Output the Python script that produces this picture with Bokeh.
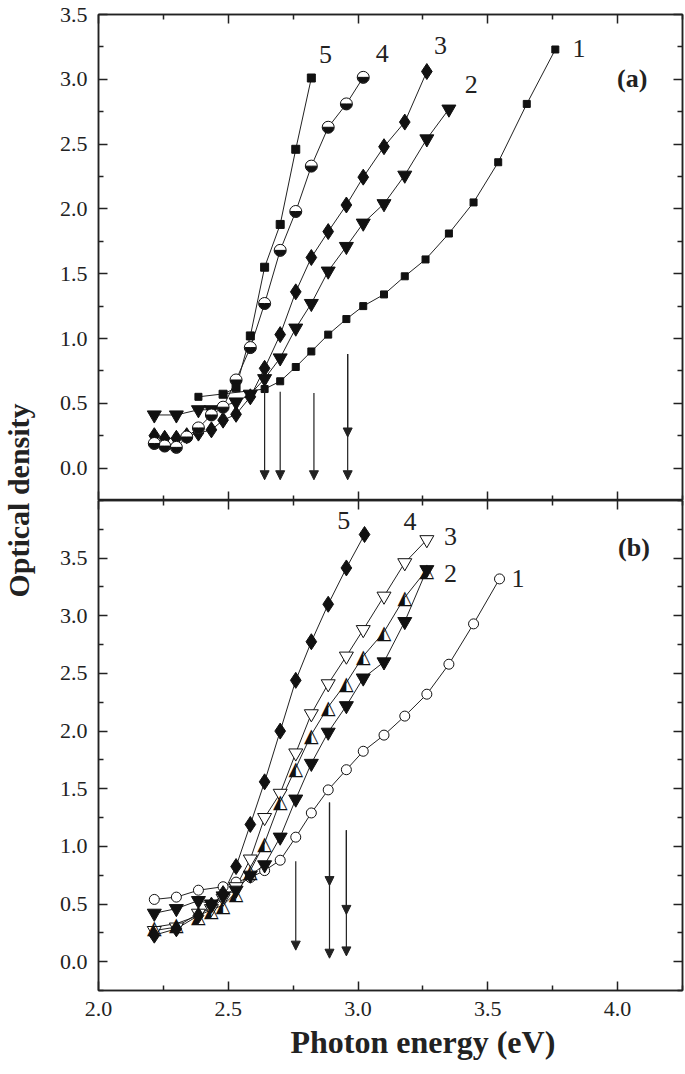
import math
from bokeh.plotting import figure
from bokeh.models import (Range1d, LinearAxis, FixedTicker, PrintfTickFormatter,
                          Arrow, NormalHead, Title, ColumnDataSource)
from bokeh.layouts import row, column
from bokeh.embed import file_html
from bokeh.resources import INLINE
from bokeh.core.properties import value

FONT = "Liberation Serif"
NAN = float("nan")

X_RANGE = (2.0, 4.25)
YA_RANGE = (-0.25, 3.5)
YB_RANGE = (-0.25, 4.0)
X_LABEL = "Photon energy (eV)"
Y_LABEL = "Optical density"

X_MAJOR = [2.0, 2.5, 3.0, 3.5, 4.0]
X_MINOR = [2.25, 2.75, 3.25, 3.75, 4.25]
Y_MAJOR = [0.0, 0.5, 1.0, 1.5, 2.0, 2.5, 3.0, 3.5]
Y_MINOR = [-0.25, 0.25, 0.75, 1.25, 1.75, 2.25, 2.75, 3.25, 3.75, 4.0]

# ---------------- panel (a) ----------------
a1_x = [2.385, 2.64, 2.70, 2.76, 2.82, 2.885, 2.955, 3.02, 3.10, 3.18, 3.26, 3.35, 3.445, 3.54, 3.65, 3.76]
a1_y = [0.55, 0.61, 0.67, 0.78, 0.90, 1.03, 1.15, 1.25, 1.34, 1.48, 1.61, 1.81, 2.05, 2.36, 2.81, 3.23]

a2_x = [2.215, 2.30, 2.385, 2.435, 2.53, 2.585, 2.64, 2.70, 2.76, 2.82, 2.885, 2.955, 3.02, 3.10, 3.18, 3.265, 3.35]
a2_y = [0.41, 0.41, 0.45, 0.45, 0.51, 0.57, 0.69, 0.85, 1.08, 1.27, 1.52, 1.71, 1.89, 2.04, 2.26, 2.54, 2.77]

a3_x = [2.215, 2.255, 2.30, 2.34, 2.385, 2.435, 2.48, 2.53, 2.585, 2.64, 2.70, 2.76, 2.82, 2.885, 2.955, 3.02, 3.10, 3.18, 3.265]
a3_y = [0.25, 0.23, 0.23, 0.25, 0.27, 0.295, 0.37, 0.415, 0.55, 0.77, 1.03, 1.36, 1.625, 1.825, 2.03, 2.245, 2.48, 2.67, 3.06]

a4_x = [2.215, 2.255, 2.30, 2.34, 2.385, 2.435, 2.48, 2.53, 2.585, 2.64, 2.70, 2.76, 2.82, 2.885, 2.955, 3.02]
a4_y = [0.19, 0.17, 0.16, 0.24, 0.31, 0.41, 0.47, 0.68, 0.93, 1.27, 1.68, 1.98, 2.33, 2.63, 2.81, 3.015]

a5_x = [2.48, 2.53, 2.585, 2.64, 2.70, 2.76, 2.82]
a5_y = [0.57, 0.62, 1.02, 1.55, 1.88, 2.46, 3.01]

a_arrow_x = [2.64, 2.70, 2.83, 2.96]
a_arrow_top = [0.60, 0.59, 0.58, 0.88]
a_arrow_tip = [-0.09, -0.09, -0.09, -0.09]
a_arrow_mid = [NAN, NAN, NAN, 0.24]

a_lab_text = ["5", "4", "3", "2", "1"]
a_lab_x = [2.875, 3.093, 3.318, 3.436, 3.851]
a_lab_y = [3.19, 3.20, 3.26, 2.96, 3.24]
a_tag = ("(a)", 4.056, 3.01)

# ---------------- panel (b) ----------------
b1_x = [2.215, 2.30, 2.385, 2.48, 2.53, 2.585, 2.64, 2.70, 2.76, 2.82, 2.885, 2.955, 3.02, 3.10, 3.18, 3.265, 3.35, 3.445, 3.545]
b1_y = [0.54, 0.56, 0.62, 0.65, 0.69, 0.73, 0.79, 0.88, 1.08, 1.29, 1.49, 1.665, 1.825, 1.965, 2.13, 2.32, 2.58, 2.93, 3.32]

b_x = [2.215, 2.30, 2.385, 2.435, 2.48, 2.53, 2.585, 2.64, 2.70, 2.76, 2.82, 2.885, 2.955, 3.02, 3.10, 3.18, 3.265]
b2_y = [0.42, 0.46, 0.53, 0.50, 0.57, 0.62, 0.75, 0.84, 1.08, 1.41, 1.72, 1.99, 2.22, 2.46, 2.60, 2.95, 3.40]
b3_y = [0.30, 0.33, 0.40, 0.45, 0.49, 0.60, 0.79, 1.03, 1.39, 1.68, 1.97, 2.21, 2.42, 2.65, 2.86, 3.16, 3.40]
b4_y = [0.27, 0.30, 0.42, 0.46, 0.55, 0.65, 0.89, 1.25, 1.46, 1.81, 2.15, 2.41, 2.65, 2.88, 3.17, 3.46, 3.66]

b5_x = [2.215, 2.30, 2.385, 2.435, 2.48, 2.53, 2.585, 2.64, 2.70, 2.76, 2.82, 2.885, 2.955, 3.025]
b5_y = [0.23, 0.285, 0.40, 0.49, 0.59, 0.825, 1.19, 1.56, 2.0, 2.44, 2.775, 3.10, 3.415, 3.705]

b_arrow_x = [2.76, 2.89, 2.955]
b_arrow_top = [0.87, 1.38, 1.14]
b_arrow_tip = [0.10, 0.03, 0.05]
b_arrow_mid = [NAN, 0.66, 0.41]

b_lab_text = ["5", "4", "3", "2", "1"]
b_lab_x = [2.945, 3.20, 3.356, 3.356, 3.616]
b_lab_y = [3.83, 3.82, 3.685, 3.365, 3.32]
b_tag = ("(b)", 4.063, 3.59)

K = "#111111"
LINE_C = "#222222"

STRIP_W = 36
PLOT_W = 649
PA_H = 500
PB_H = 572
LEFT_B = 62


def style_axis(ax, major, minor, labels=True):
    ax.ticker = FixedTicker(ticks=major, minor_ticks=minor)
    ax.formatter = PrintfTickFormatter(format="%.1f")
    ax.major_tick_in = 9
    ax.major_tick_out = 0
    ax.minor_tick_in = 5
    ax.minor_tick_out = 0
    ax.axis_line_width = 1.5
    ax.major_tick_line_width = 1.5
    ax.minor_tick_line_width = 1.5
    ax.axis_line_color = LINE_C
    ax.major_tick_line_color = LINE_C
    ax.minor_tick_line_color = LINE_C
    ax.major_label_text_font = FONT
    if labels:
        ax.major_label_text_font_size = "22px"
        ax.major_label_text_color = LINE_C
        ax.major_label_standoff = 11
    else:
        ax.major_label_text_font_size = "0px"
        ax.major_label_text_color = None
        ax.major_label_standoff = 0


def make_fig(height, yr, top_border, bottom_border, bottom_labels):
    p = figure(width=PLOT_W, height=height, x_range=Range1d(*X_RANGE), y_range=Range1d(*yr),
               output_backend="svg", toolbar_location=None,
               x_axis_location=None, y_axis_location=None,
               min_border_left=LEFT_B, min_border_right=3,
               min_border_top=top_border, min_border_bottom=bottom_border)
    p.grid.visible = False
    p.outline_line_color = LINE_C
    p.outline_line_width = 1.5
    for loc, lab in (("below", bottom_labels), ("left", True), ("above", False), ("right", False)):
        ax = LinearAxis()
        if loc in ("below", "above"):
            style_axis(ax, X_MAJOR, X_MINOR, lab)
        else:
            style_axis(ax, Y_MAJOR, Y_MINOR, lab)
        p.add_layout(ax, loc)
    return p


def line(p, x, y):
    p.line(x, y, line_color=LINE_C, line_width=1)


def arrows(p, xs, tops, tips, mids):
    head = dict(size=9, fill_color=LINE_C, line_color=LINE_C)
    src = ColumnDataSource(dict(x=xs, top=tops, tip=tips))
    p.add_layout(Arrow(x_start="x", y_start="top", x_end="x", y_end="tip", source=src,
                       line_width=1.2, line_color=LINE_C, end=NormalHead(**head)))
    keep = [i for i, m in enumerate(mids) if not math.isnan(m)]
    if keep:
        src2 = ColumnDataSource(dict(x=[xs[i] for i in keep], top=[tops[i] for i in keep],
                                     tip=[mids[i] for i in keep]))
        p.add_layout(Arrow(x_start="x", y_start="top", x_end="x", y_end="tip", source=src2,
                           line_width=1.2, line_color=LINE_C, end=NormalHead(**head)))


def labels(p, xs, ys, texts, tag):
    p.text(xs, ys, text=texts, text_font=value(FONT), text_font_size="26px",
           text_align="center", text_baseline="middle", text_color=LINE_C)
    p.text([tag[1]], [tag[2]], text=[tag[0]], text_font=value(FONT), text_font_size="26px",
           text_font_style="bold", text_align="center", text_baseline="middle", text_color=LINE_C)


# ---------- panel (a) figure ----------
pa = make_fig(PA_H, YA_RANGE, 14, 0, False)
for xs, ys in ((a1_x, a1_y), (a2_x, a2_y), (a3_x, a3_y), (a4_x, a4_y), (a5_x, a5_y)):
    line(pa, xs, ys)
arrows(pa, a_arrow_x, a_arrow_top, a_arrow_tip, a_arrow_mid)
pa.scatter(a2_x, a2_y, marker="inverted_triangle", size=14, fill_color=K, line_color=K)
pa.scatter(a3_x, a3_y, marker="diamond", size=16, fill_color=K, line_color=K)
pa.scatter(a4_x, a4_y, marker="circle", size=12, fill_color="white", line_color=K, line_width=1)
pa.wedge(a4_x, a4_y, radius=5.5, radius_units="screen", start_angle=math.pi, end_angle=2 * math.pi,
         fill_color=K, line_color=K)
pa.scatter(a5_x, a5_y, marker="square", size=8, fill_color=K, line_color=K)
pa.scatter(a1_x, a1_y, marker="square", size=7, fill_color=K, line_color=K)
labels(pa, a_lab_x, a_lab_y, a_lab_text, a_tag)

# ---------- panel (b) figure ----------
pb = make_fig(PB_H, YB_RANGE, 0, 82, True)
for xs, ys in ((b1_x, b1_y), (b_x, b2_y), (b_x, b3_y), (b_x, b4_y), (b5_x, b5_y)):
    line(pb, xs, ys)
arrows(pb, b_arrow_x, b_arrow_top, b_arrow_tip, b_arrow_mid)
pb.scatter(b1_x, b1_y, marker="circle", size=10, fill_color="white", line_color=K, line_width=1)
pb.scatter(b_x, b4_y, marker="inverted_triangle", size=14, fill_color="white", line_color=K, line_width=1)
pb.scatter(b_x, b2_y, marker="inverted_triangle", size=14, fill_color=K, line_color=K)
pb.text(b_x, b3_y, text=["\u25ED"] * len(b_x), text_font=value("DejaVu Sans"), text_font_size="19px",
        text_align="center", text_baseline="middle", text_color=K)
pb.scatter(b5_x, b5_y, marker="diamond", size=16, fill_color=K, line_color=K)
labels(pb, b_lab_x, b_lab_y, b_lab_text, b_tag)
pb.add_layout(Title(text=X_LABEL, align="left", offset=192, standoff=6,
                    text_font=FONT, text_font_size="32px", text_font_style="bold",
                    text_color=LINE_C), "below")

# ---------- y label strip ----------
pl = figure(width=STRIP_W, height=PA_H + PB_H, x_range=Range1d(0, 1), y_range=Range1d(0, PA_H + PB_H),
            output_backend="svg", toolbar_location=None,
            x_axis_location=None, y_axis_location=None, min_border=0)
pl.grid.visible = False
pl.outline_line_color = None
pl.text([0.5], [PB_H], text=[Y_LABEL], angle=math.pi / 2, text_font=value(FONT),
        text_font_size="30px", text_font_style="bold", text_align="center",
        text_baseline="middle", text_color=LINE_C)

layout = row(pl, column(pa, pb))
open("out.html", "w").write(file_html(layout, INLINE))
